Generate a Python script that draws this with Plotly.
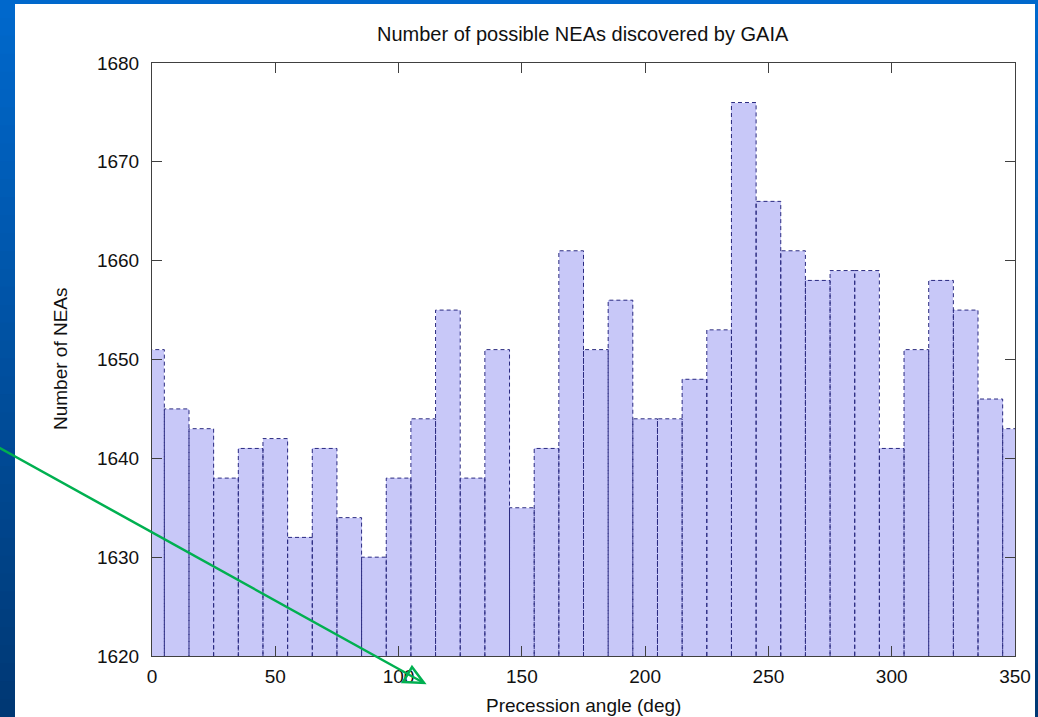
import plotly.graph_objects as go

# Histogram of NEA detections versus precession angle (10-degree bins)
angle_deg = [0, 10, 20, 30, 40, 50, 60, 70, 80, 90,
             100, 110, 120, 130, 140, 150, 160, 170, 180, 190,
             200, 210, 220, 230, 240, 250, 260, 270, 280, 290,
             300, 310, 320, 330, 340, 350]
nea_count = [1651, 1645, 1643, 1638, 1641, 1642, 1632, 1641, 1634, 1630,
             1638, 1644, 1655, 1638, 1651, 1635, 1641, 1661, 1651, 1656,
             1644, 1644, 1648, 1653, 1676, 1666, 1661, 1658, 1659, 1659,
             1641, 1651, 1658, 1655, 1646, 1643]
x_ticks = [0, 50, 100, 150, 200, 250, 300, 350]
y_ticks = [1620, 1630, 1640, 1650, 1660, 1670, 1680]

BIN_WIDTH = 10
X_RANGE = [0, 350]
Y_RANGE = [1620, 1680]

W, H = 1038, 717
ML, MR, MT, MB = 152, 23, 63, 61
PW, PH = W - ML - MR, H - MT - MB

FONT = "Liberation Sans, Arial, Helvetica, sans-serif"
FILL = "#c8c8f8"
EDGE = "#2a2a80"
FRAME = "#404040"
GREEN = "#00b050"


def px(xp):
    """pixel column -> paper x"""
    return (xp - ML) / PW


def py(yp):
    """pixel row -> paper y"""
    return (H - MB - yp) / PH


fig = go.Figure()

# filled boxes
fig.add_trace(go.Bar(
    x=angle_deg, y=nea_count, width=BIN_WIDTH,
    marker=dict(color=FILL, line=dict(width=0)),
    hoverinfo="x+y", showlegend=False,
))

# dashed outline of every box, drawn independently
ox, oy = [], []
for a, n in zip(angle_deg, nea_count):
    x0, x1 = a - BIN_WIDTH / 2, a + BIN_WIDTH / 2
    ox += [x0, x0, x1, x1, None]
    oy += [Y_RANGE[0], n, n, Y_RANGE[0], None]
fig.add_trace(go.Scatter(
    x=ox, y=oy, mode="lines",
    line=dict(color=EDGE, width=1, dash="4px,3px"),
    hoverinfo="skip", showlegend=False, connectgaps=False,
))

axis_common = dict(
    showline=True, mirror="ticks", linecolor=FRAME, linewidth=1,
    ticks="inside", ticklen=10, tickwidth=1, tickcolor=FRAME,
    showgrid=False, zeroline=False, automargin=False,
    tickfont=dict(family=FONT, size=19, color="#111111"),
)

fig.update_xaxes(range=X_RANGE, tickvals=x_ticks, ticklabelstandoff=3, **axis_common)
fig.update_yaxes(range=Y_RANGE, tickvals=y_ticks, ticklabelstandoff=8, **axis_common)

# slide background: blue gradient frame with a white panel
shapes = []
n_strips = 40
top_rgb, bot_rgb = (0, 104, 204), (0, 56, 116)
for i in range(n_strips):
    t = i / (n_strips - 1)
    c = tuple(round(top_rgb[k] + (bot_rgb[k] - top_rgb[k]) * t) for k in range(3))
    y0p = H * i / n_strips
    y1p = H * (i + 1) / n_strips + 1
    shapes.append(dict(
        type="rect", xref="paper", yref="paper", layer="below",
        x0=px(0), x1=px(W), y0=py(y1p), y1=py(y0p),
        fillcolor="rgb(%d,%d,%d)" % c, line=dict(width=0),
    ))
shapes.append(dict(
    type="rect", xref="paper", yref="paper", layer="below",
    x0=px(15), x1=px(1035), y0=py(H + 2), y1=py(4),
    fillcolor="white", line=dict(width=0),
))

# green pointer arrow
shapes.append(dict(
    type="line", xref="paper", yref="paper", layer="above",
    x0=px(-2), y0=py(447), x1=px(424), y1=py(683),
    line=dict(color=GREEN, width=2.5),
))
tri = [(403, 682), (424, 683), (412, 667)]
path = "M %f,%f L %f,%f L %f,%f Z" % (
    px(tri[0][0]), py(tri[0][1]), px(tri[1][0]), py(tri[1][1]),
    px(tri[2][0]), py(tri[2][1]))
shapes.append(dict(
    type="path", xref="paper", yref="paper", layer="above", path=path,
    line=dict(color=GREEN, width=2.5), fillcolor="rgba(0,0,0,0)",
))

annotations = [
    dict(text="Number of possible NEAs discovered by GAIA",
         xref="paper", yref="paper", x=px(583), y=py(34),
         xanchor="center", yanchor="middle", showarrow=False,
         font=dict(family=FONT, size=20, color="#111111")),
    dict(text="Precession angle (deg)",
         xref="paper", yref="paper", x=px(583), y=py(705),
         xanchor="center", yanchor="middle", showarrow=False,
         font=dict(family=FONT, size=19, color="#111111")),
    dict(text="Number of NEAs", textangle=-90,
         xref="paper", yref="paper", x=px(60), y=py(359),
         xanchor="center", yanchor="middle", showarrow=False,
         font=dict(family=FONT, size=19, color="#111111")),
]

fig.update_layout(
    width=W, height=H, autosize=False,
    margin=dict(l=ML, r=MR, t=MT, b=MB, pad=0, autoexpand=False),
    paper_bgcolor="rgb(0,104,204)", plot_bgcolor="white",
    shapes=shapes, annotations=annotations,
    bargap=0, showlegend=False,
)

fig.write_html("out.html", config={"responsive": False})
